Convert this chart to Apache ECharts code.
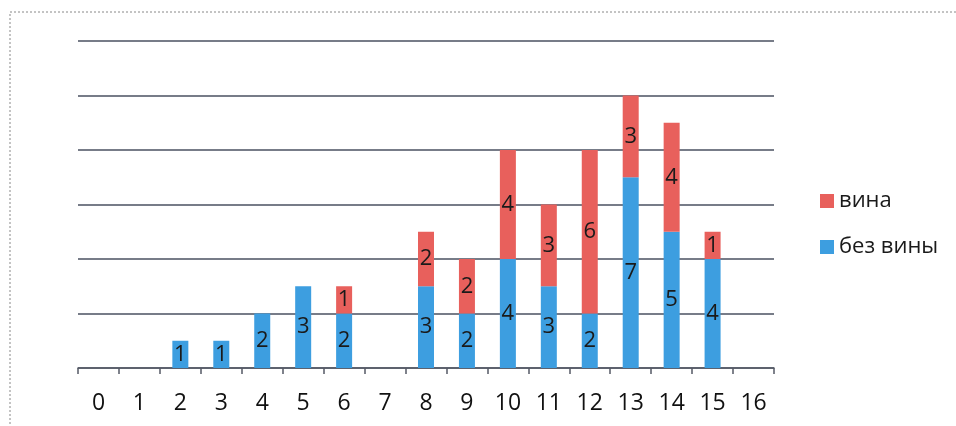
<!DOCTYPE html>
<html>
<head>
<meta charset="utf-8">
<script src="https://cdn.jsdelivr.net/npm/echarts@6/dist/echarts.min.js"></script>
<style>html,body{margin:0;padding:0;background:#fff}#c{width:956px;height:426px}</style>
</head>
<body>
<div id="c"></div>
<script>
const categories = ['0','1','2','3','4','5','6','7','8','9','10','11','12','13','14','15','16'];
const bezViny = [0,0,1,1,2,3,2,0,3,2,4,3,2,7,5,4,0];
const vina =    [0,0,0,0,0,0,1,0,2,2,4,3,6,3,4,1,0];
const yTicks = {min:0, max:12, interval:2};

const toData = arr => arr.map(v => v === 0 ? null : v);
const font = '"Open Sans", "Noto Sans", sans-serif';
const chart = echarts.init(document.getElementById('c'));
chart.setOption({
  animation:false,
  backgroundColor:'#fff',
  graphic:[{type:'rect', shape:{x:10,y:12,width:960,height:440}, style:{fill:'none', stroke:'#888', lineWidth:1, lineDash:[2,2]}}],
  grid:{left:78, right:182, top:41, bottom:58},
  legend:{orient:'vertical', left:815, top:185, itemWidth:14, itemHeight:14, itemGap:24,
    icon:'rect', data:['вина','без вины'],
    textStyle:{fontSize:22, color:'#1a1a1a', fontFamily:font}},
  xAxis:{type:'category', data:categories,
    axisLine:{lineStyle:{color:'#555a66', width:1.5}},
    axisTick:{show:true, length:6, lineStyle:{color:'#555a66', width:1.5}},
    axisLabel:{fontSize:23, color:'#111', margin:24, fontFamily:font}},
  yAxis:{type:'value', min:yTicks.min, max:yTicks.max, interval:yTicks.interval,
    axisLabel:{show:false}, axisLine:{show:false}, axisTick:{show:false},
    splitLine:{lineStyle:{color:'#4a5060', width:1.5}}},
  series:[
    {name:'без вины', type:'bar', stack:'s', data:toData(bezViny), barWidth:16,
     itemStyle:{color:'#3d9ee0'},
     label:{show:true, position:'inside', fontSize:22, color:'#1a1a1a', fontFamily:font}},
    {name:'вина', type:'bar', stack:'s', data:toData(vina), barWidth:16,
     itemStyle:{color:'#e8605c'},
     label:{show:true, position:'inside', fontSize:22, color:'#1a1a1a', fontFamily:font}}
  ]
});
</script>
</body>
</html>
